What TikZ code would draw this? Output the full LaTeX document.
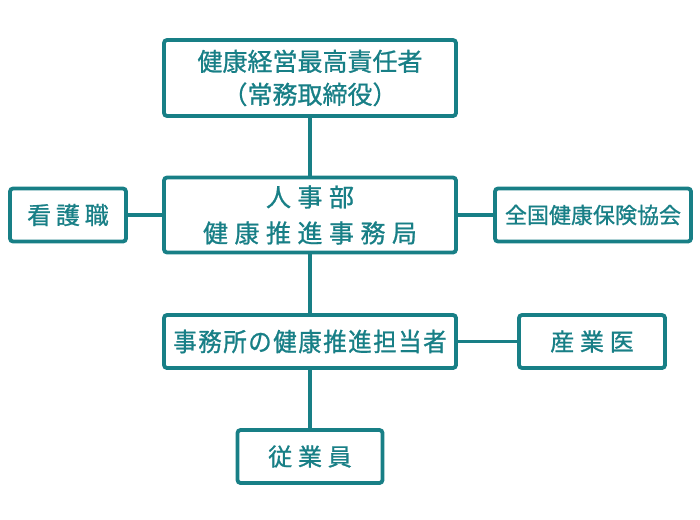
\documentclass[tikz,border=0pt]{standalone}
\usepackage{fontspec}
\setmainfont[FakeBold=0.9]{Noto Sans CJK JP}
\definecolor{teal1}{HTML}{187F86}
\begin{document}
\begin{tikzpicture}[x=1pt,y=-1pt,
  box/.style={draw=teal1,line width=3.8pt,rounded corners=3pt,fill=white,
    inner sep=0pt,align=center,text=teal1},
  conn/.style={draw=teal1,line width=3.8pt}]
\useasboundingbox (0,0) rectangle (700,519);
\node[box,minimum width=292pt,minimum height=76pt,font=\fontsize{25}{33}\selectfont] (top) at (310,78) {健康経営最高責任者\\（常務取締役）};
\node[box,minimum width=292pt,minimum height=75pt,font=\fontsize{25}{36}\selectfont\addfontfeature{LetterSpace=26}] (hr) at (310,215) {人事部\\健康推進事務局};
\node[box,minimum width=116pt,minimum height=53pt,font=\fontsize{24}{28}\selectfont\addfontfeature{LetterSpace=20}] (nurse) at (68,215) {看護職};
\node[box,minimum width=196pt,minimum height=53pt,font=\fontsize{22}{26}\selectfont] (kyokai) at (593,215) {全国健康保険協会};
\node[box,minimum width=292pt,minimum height=53pt,font=\fontsize{25.5}{30}\selectfont\addfontfeature{FakeStretch=0.92,LetterSpace=6}] (jimu) at (310,341.5) {事務所の健康推進担当者};
\node[box,minimum width=146pt,minimum height=53pt,font=\fontsize{24}{28}\selectfont\addfontfeature{LetterSpace=24}] (sangyo) at (592,341.5) {産業医};
\node[box,minimum width=145pt,minimum height=53pt,font=\fontsize{24}{28}\selectfont\addfontfeature{LetterSpace=24}] (jugyo) at (310,456.5) {従業員};
\draw[conn] (top) -- (hr);
\draw[conn] (hr) -- (jimu);
\draw[conn] (jimu) -- (jugyo);
\draw[conn] (nurse) -- (hr);
\draw[conn] (hr) -- (kyokai);
\draw[conn] (jimu) -- (sangyo);
\end{tikzpicture}
\end{document}
